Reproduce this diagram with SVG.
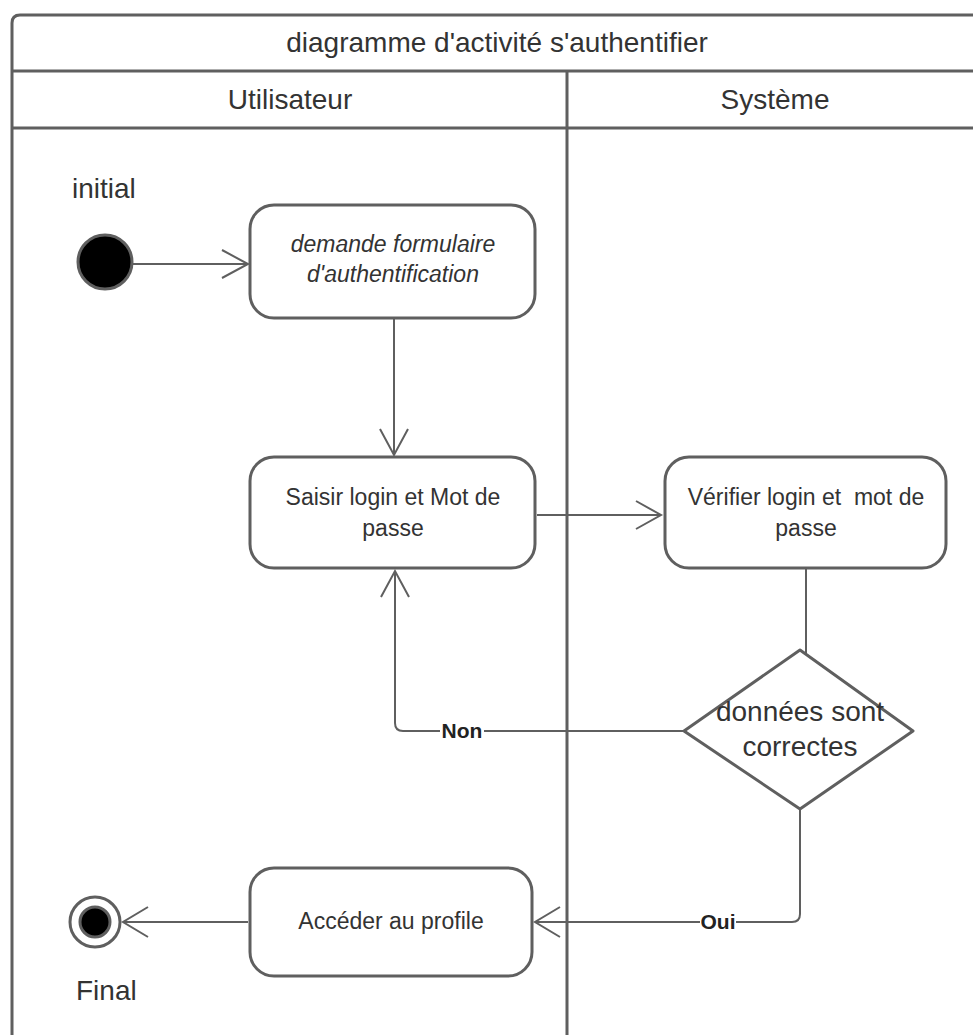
<svg xmlns="http://www.w3.org/2000/svg" width="973" height="1035" viewBox="0 0 973 1035">
  <style>
    .frame { fill: none; stroke: #5f5f5f; stroke-width: 3; }
    .node { fill: #ffffff; stroke: #5f5f5f; stroke-width: 3; }
    .edge { fill: none; stroke: #5f5f5f; stroke-width: 2; }
    .head { fill: none; stroke: #5f5f5f; stroke-width: 2; stroke-linejoin: miter; }
    .t { font-family: "Liberation Sans", Arial, sans-serif; fill: #333333; }
    .big { font-size: 28px; }
    .mid { font-size: 23px; }
    .lbl { font-size: 21px; font-weight: bold; fill: #222222; }
  </style>

  <rect x="0" y="0" width="973" height="1035" fill="#ffffff"/>

  <!-- swimlane frame -->
  <g id="frame">
    <path class="frame" d="M 12 1040 L 12 23 Q 12 15 20 15 L 980 15"/>
    <line class="frame" x1="12" y1="71" x2="980" y2="71"/>
    <line class="frame" x1="12" y1="128" x2="980" y2="128"/>
    <line class="frame" x1="567" y1="71" x2="567" y2="1040"/>
    <text class="t big" x="497" y="52" text-anchor="middle">diagramme d'activité s'authentifier</text>
    <text class="t big" x="290" y="109" text-anchor="middle">Utilisateur</text>
    <text class="t big" x="775" y="109" text-anchor="middle">Système</text>
  </g>

  <!-- connectors -->
  <g id="connectors">
    <line class="edge" x1="133" y1="264" x2="247" y2="264"/>
    <polyline class="head" points="222,250 248,264 222,278"/>

    <line class="edge" x1="394" y1="318" x2="394" y2="455"/>
    <polyline class="head" points="380,429 394,455 408,429"/>

    <line class="edge" x1="537" y1="515" x2="660" y2="515"/>
    <polyline class="head" points="636,501 661,515 636,529"/>

    <line class="edge" x1="806" y1="568" x2="806" y2="654"/>

    <path class="edge" d="M 683 731 L 403 731 Q 395 731 395 723 L 395 571"/>
    <polyline class="head" points="381,597 395,571 409,597"/>
    <rect x="440" y="720" width="44" height="22" fill="#ffffff"/>
    <text class="t lbl" x="462" y="738" text-anchor="middle">Non</text>

    <path class="edge" d="M 800 809 L 800 914 Q 800 922 792 922 L 535 922"/>
    <polyline class="head" points="560,907 535,922 560,937"/>
    <rect x="700" y="911" width="36" height="22" fill="#ffffff"/>
    <text class="t lbl" x="718" y="929" text-anchor="middle">Oui</text>

    <line class="edge" x1="248" y1="922" x2="123" y2="922"/>
    <polyline class="head" points="148,907 123,922 148,937"/>
  </g>

  <!-- initial node -->
  <g id="initial">
    <circle cx="105" cy="262" r="27" fill="#000000" stroke="#5f5f5f" stroke-width="3"/>
    <text class="t big" x="72" y="198">initial</text>
  </g>

  <!-- activity: demande formulaire -->
  <g id="demande-formulaire">
    <rect class="node" x="250" y="205" width="285" height="113" rx="24"/>
    <text class="t mid" x="393" y="252" text-anchor="middle" font-style="italic">demande formulaire</text>
    <text class="t mid" x="393" y="282" text-anchor="middle" font-style="italic">d'authentification</text>
  </g>

  <!-- activity: saisir login -->
  <g id="saisir-login">
    <rect class="node" x="250" y="457" width="285" height="111" rx="24"/>
    <text class="t mid" x="393" y="505" text-anchor="middle">Saisir login et Mot de</text>
    <text class="t mid" x="393" y="536" text-anchor="middle">passe</text>
  </g>

  <!-- activity: verifier login -->
  <g id="verifier-login">
    <rect class="node" x="665" y="457" width="281" height="111" rx="24"/>
    <text class="t mid" x="806" y="505" text-anchor="middle" xml:space="preserve">Vérifier login et  mot de</text>
    <text class="t mid" x="806" y="536" text-anchor="middle">passe</text>
  </g>

  <!-- decision -->
  <g id="decision">
    <path class="node" d="M 800 650 L 913 731 L 800 809 L 684 731 Z" stroke-linejoin="round"/>
    <text class="t big" x="800" y="721" text-anchor="middle">données sont</text>
    <text class="t big" x="800" y="756" text-anchor="middle">correctes</text>
  </g>

  <!-- activity: acceder au profile -->
  <g id="acceder-profile">
    <rect class="node" x="250" y="868" width="282" height="108" rx="24"/>
    <text class="t mid" x="391" y="929" text-anchor="middle">Accéder au profile</text>
  </g>

  <!-- final node -->
  <g id="final">
    <circle cx="95" cy="922" r="25" fill="#ffffff" stroke="#5f5f5f" stroke-width="3"/>
    <circle cx="95" cy="922" r="15" fill="#000000" stroke="#5f5f5f" stroke-width="3"/>
    <text class="t big" x="76" y="1000">Final</text>
  </g>
</svg>
